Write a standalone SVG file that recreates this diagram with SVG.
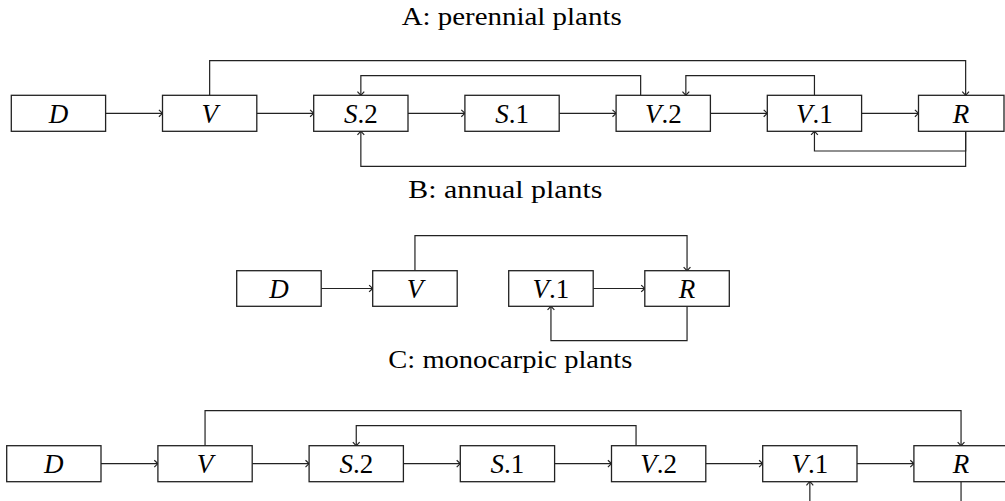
<svg xmlns="http://www.w3.org/2000/svg" width="1005" height="501" viewBox="0 0 1005 501">
<style>
.box{fill:#fff;stroke:#222;stroke-width:1.3}
.lbl{font-family:"Liberation Serif","DejaVu Serif",serif;font-size:27px;fill:#000;text-anchor:middle}
.ttl{font-family:"Liberation Serif","DejaVu Serif",serif;font-size:25px;fill:#000}
.it{font-style:italic}
.c{fill:none;stroke:#222;stroke-width:1.2}
</style>
<defs>
<marker id="ah" markerUnits="userSpaceOnUse" markerWidth="10" markerHeight="10" viewBox="-5 -5 10 10" refX="0" refY="0" orient="auto" overflow="visible">
<path d="M-3.6,-3.4 Q-0.9,-0.9 0,0 Q-0.9,0.9 -3.6,3.4" fill="none" stroke="#222" stroke-width="1.2"/>
</marker>
</defs>
<rect width="1005" height="501" fill="#fff"/>

<text class="ttl" x="401.7" y="24.5" textLength="220" lengthAdjust="spacingAndGlyphs">A: perennial plants</text>
<text class="ttl" x="408.3" y="198.3" textLength="194" lengthAdjust="spacingAndGlyphs">B: annual plants</text>
<text class="ttl" x="388.3" y="368" textLength="244" lengthAdjust="spacingAndGlyphs">C: monocarpic plants</text>

<g id="connectors">
<path class="c" marker-end="url(#ah)" d="M105.6,113.3 H162.5"/>
<path class="c" marker-end="url(#ah)" d="M256.8,113.3 H313.7"/>
<path class="c" marker-end="url(#ah)" d="M408,113.3 H464.9"/>
<path class="c" marker-end="url(#ah)" d="M559.2,113.3 H616.1"/>
<path class="c" marker-end="url(#ah)" d="M710.4,113.3 H767.3"/>
<path class="c" marker-end="url(#ah)" d="M861.6,113.3 H918.5"/>
<path class="c" marker-end="url(#ah)" d="M209.65,95.3 V60.7 H965.65 V95.3"/>
<path class="c" marker-end="url(#ah)" d="M640.65,95.3 V75.7 H360.85 V95.3"/>
<path class="c" marker-end="url(#ah)" d="M814.45,95.3 V75.7 H685.85 V95.3"/>
<path class="c" marker-end="url(#ah)" d="M965.65,131.3 V151 H814.45 V131.3"/>
<path class="c" marker-end="url(#ah)" d="M965.65,131.3 V166.3 H360.85 V131.3"/>
<path class="c" marker-end="url(#ah)" d="M321.2,288.5 H372.7"/>
<path class="c" marker-end="url(#ah)" d="M593.2,288.5 H644.8"/>
<path class="c" marker-end="url(#ah)" d="M414.95,270.7 V235.7 H687.05 V270.7"/>
<path class="c" marker-end="url(#ah)" d="M687.05,306.3 V340.7 H550.95 V306.3"/>
<path class="c" marker-end="url(#ah)" d="M101,463.7 H157.9"/>
<path class="c" marker-end="url(#ah)" d="M252.2,463.7 H309.1"/>
<path class="c" marker-end="url(#ah)" d="M403.4,463.7 H460.3"/>
<path class="c" marker-end="url(#ah)" d="M554.6,463.7 H611.5"/>
<path class="c" marker-end="url(#ah)" d="M705.8,463.7 H762.7"/>
<path class="c" marker-end="url(#ah)" d="M857,463.7 H913.9"/>
<path class="c" marker-end="url(#ah)" d="M205.05,445.7 V410.7 H961.05 V445.7"/>
<path class="c" marker-end="url(#ah)" d="M636.05,445.7 V425.7 H356.25 V445.7"/>
<path class="c" d="M961.05,481.7 V510"/>
<path class="c" marker-end="url(#ah)" d="M809.85,510 V481.7"/>
</g>

<g id="A_D"><rect class="box" x="11.3" y="95.3" width="94.3" height="36"/><text class="lbl it" x="58.45" y="122.6">D</text></g>
<g id="A_V"><rect class="box" x="162.5" y="95.3" width="94.3" height="36"/><text class="lbl it" x="209.65" y="122.6">V</text></g>
<g id="A_S2"><rect class="box" x="313.7" y="95.3" width="94.3" height="36"/><text class="lbl" x="360.85" y="122.6"><tspan class="it">S</tspan>.2</text></g>
<g id="A_S1"><rect class="box" x="464.9" y="95.3" width="94.3" height="36"/><text class="lbl" x="512.05" y="122.6"><tspan class="it">S</tspan>.1</text></g>
<g id="A_V2"><rect class="box" x="616.1" y="95.3" width="94.3" height="36"/><text class="lbl" x="663.25" y="122.6"><tspan class="it">V</tspan>.2</text></g>
<g id="A_V1"><rect class="box" x="767.3" y="95.3" width="94.3" height="36"/><text class="lbl" x="814.45" y="122.6"><tspan class="it">V</tspan>.1</text></g>
<g id="A_R"><rect class="box" x="918.5" y="95.3" width="85.5" height="36"/><text class="lbl it" x="961" y="122.6">R</text></g>

<g id="B_D"><rect class="box" x="236.7" y="270.7" width="84.5" height="35.6"/><text class="lbl it" x="278.95" y="297.8">D</text></g>
<g id="B_V"><rect class="box" x="372.7" y="270.7" width="84.5" height="35.6"/><text class="lbl it" x="414.95" y="297.8">V</text></g>
<g id="B_V1"><rect class="box" x="508.7" y="270.7" width="84.5" height="35.6"/><text class="lbl" x="550.95" y="297.8"><tspan class="it">V</tspan>.1</text></g>
<g id="B_R"><rect class="box" x="644.8" y="270.7" width="84.5" height="35.6"/><text class="lbl it" x="687.05" y="297.8">R</text></g>

<g id="C_D"><rect class="box" x="6.7" y="445.7" width="94.3" height="36"/><text class="lbl it" x="53.85" y="473">D</text></g>
<g id="C_V"><rect class="box" x="157.9" y="445.7" width="94.3" height="36"/><text class="lbl it" x="205.05" y="473">V</text></g>
<g id="C_S2"><rect class="box" x="309.1" y="445.7" width="94.3" height="36"/><text class="lbl" x="356.25" y="473"><tspan class="it">S</tspan>.2</text></g>
<g id="C_S1"><rect class="box" x="460.3" y="445.7" width="94.3" height="36"/><text class="lbl" x="507.45" y="473"><tspan class="it">S</tspan>.1</text></g>
<g id="C_V2"><rect class="box" x="611.5" y="445.7" width="94.3" height="36"/><text class="lbl" x="658.65" y="473"><tspan class="it">V</tspan>.2</text></g>
<g id="C_V1"><rect class="box" x="762.7" y="445.7" width="94.3" height="36"/><text class="lbl" x="809.85" y="473"><tspan class="it">V</tspan>.1</text></g>
<g id="C_R"><rect class="box" x="913.9" y="445.7" width="94.3" height="36"/><text class="lbl it" x="961.05" y="473">R</text></g>
</svg>
